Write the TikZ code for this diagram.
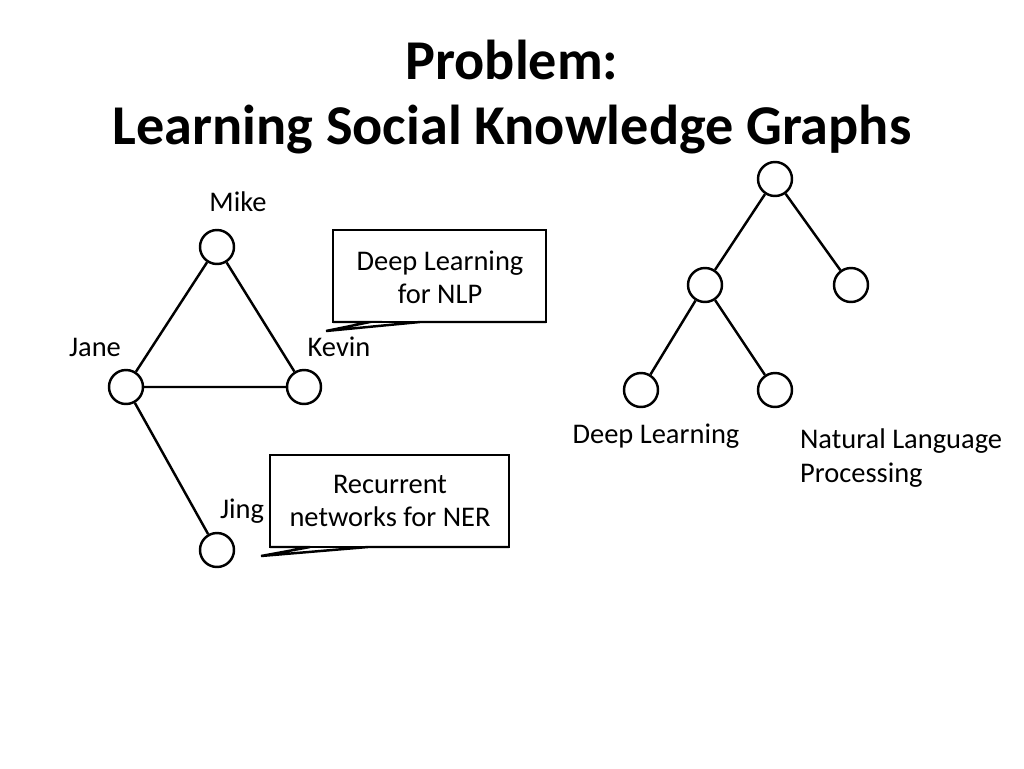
\documentclass[tikz,border=0pt]{standalone}
\usepackage{fontspec}
\setmainfont{Carlito}
\begin{document}
\begin{tikzpicture}[x=0.02cm,y=-0.02cm,line width=1.4pt,
  vert/.style={draw,shape=circle,minimum size=0.68cm,inner sep=0pt},
  lbl/.style={font=\fontsize{16.2}{19}\selectfont},
  callout/.style={draw,rectangle,align=center,font=\fontsize{16.2}{19}\selectfont}]
  \useasboundingbox (0,0) rectangle (1024,768);
  \node[font=\bfseries\fontsize{32}{37}\selectfont,align=center] (title) at (512,97) {Problem:\\Learning Social Knowledge Graphs};
  % social graph
  \node[vert] (mike) at (217,247) {};
  \node[vert] (jane) at (126,387) {};
  \node[vert] (kevin) at (304,387) {};
  \node[vert] (jing) at (217,550) {};
  \node[lbl] (lmike) at (238,202) {Mike};
  \node[lbl] (ljane) at (95,347) {Jane};
  \node[lbl] (lkevin) at (339,347) {Kevin};
  \node[lbl] (ljing) at (242,511) {Jing};
  \draw (mike) -- (jane) -- (kevin) -- (mike) (jane) -- (jing);
  % callouts
  \draw (333,230) rectangle (546,322);
  \draw (546,322) -- (420,322) -- (326,331) -- (370,322) -- (333,322);
  \node[callout,draw=none] (c1) at (440,277) {Deep Learning\\for NLP};
  \draw (270,455) rectangle (509,547);
  \draw (509,547) -- (368,547) -- (261,556) -- (310,547) -- (270,547);
  \node[callout,draw=none] (c2) at (390,501) {Recurrent\\networks for NER};
  % tree
  \node[vert] (root) at (775,179) {};
  \node[vert] (l) at (705,285) {};
  \node[vert] (r) at (851,285) {};
  \node[vert] (ll) at (641,390) {};
  \node[vert] (lr) at (775,390) {};
  \draw (root) -- (l) (root) -- (r) (l) -- (ll) (l) -- (lr);
  \node[lbl] (ldl) at (656,436) {Deep Learning};
  \node[lbl,anchor=west,align=left] (lnlp) at (793,458) {Natural Language\\Processing};
\end{tikzpicture}
\end{document}
